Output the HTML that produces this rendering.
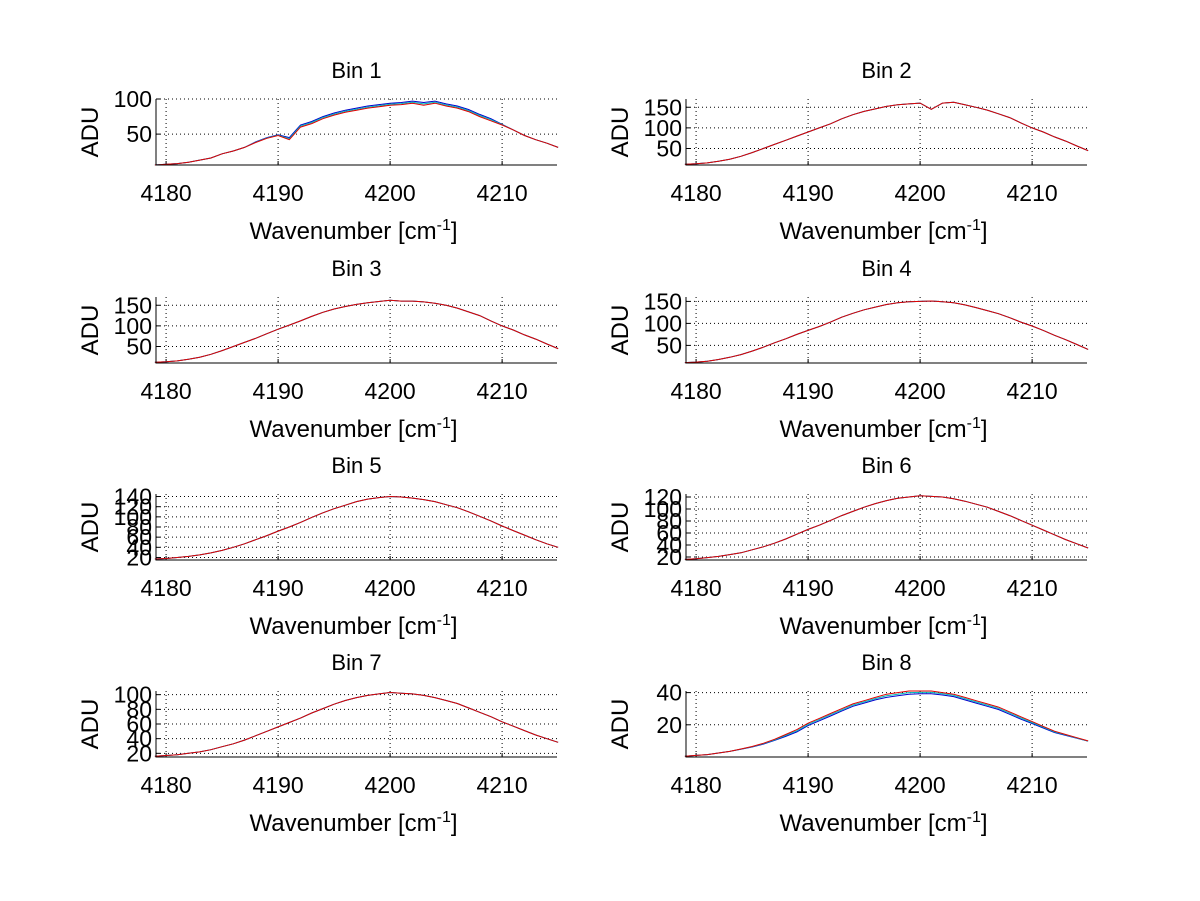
<!DOCTYPE html>
<html><head><meta charset="utf-8"><style>
html,body{margin:0;padding:0;background:#fff;}
svg{display:block;font-family:"Liberation Sans",sans-serif;}
</style></head><body>
<svg id="fig" width="1200" height="901" viewBox="0 0 1200 901" xmlns="http://www.w3.org/2000/svg">
<rect width="1200" height="901" fill="#fff"/>
</svg>
<script>
const wavenumbers = [4179,4180,4181,4182,4183,4184,4185,4186,4187,4188,4189,4190,4191,4192,4193,4194,4195,4196,4197,4198,4199,4200,4201,4202,4203,4204,4205,4206,4207,4208,4209,4210,4211,4212,4213,4214,4215];
const xTicks = [4180,4190,4200,4210];
const bin1Red = [6,7,8,10,13,16,22,26,31,38,44,48,42,60,65,72,77,81,84,87,89,91,92,94,91,94,90,87,82,75,69,63,56,48,42,37,31];
const bin1Blue = [6,7,8,10,13,16,22,26,31,39,45,49,45,63,68,75,80,84,87,90,92,94,95,97,95,97,93,90,85,78,72,64,56,48,42,37,31];
const bin2Red = [12,13,15,19,24,31,40,50,60,70,80,90,100,110,122,132,140,146,152,156,158,160,145,160,162,156,150,143,134,125,112,100,90,78,68,56,45];
const bin3Red = [12,13,15,19,24,31,40,50,60,70,81,92,102,112,123,133,141,147,152,156,159,162,160,160,158,155,150,143,134,125,112,100,90,78,68,56,45];
const bin4Red = [11,12,14,18,23,29,37,46,56,65,75,84,93,103,114,123,131,137,143,147,149,150,151,149,147,142,136,129,122,113,103,94,84,73,63,52,41];
const bin5Red = [17,18,20,22,25,29,34,40,47,55,63,72,80,89,99,108,116,123,130,135,138,140,139,137,134,130,124,118,110,101,92,82,73,64,55,47,40];
const bin6Red = [16,17,19,21,24,27,32,37,43,50,58,66,73,81,89,96,103,109,114,118,120,122,121,120,117,113,108,103,96,89,81,73,65,57,49,42,35];
const bin7Red = [16,17,18,20,22,25,29,33,38,44,50,56,62,68,75,81,87,92,96,99,101,103,102,101,99,96,92,88,82,76,70,63,57,51,45,40,35];
const bin8Red = [0.5,1,1.5,2.5,3.5,5,6.5,8.5,11,14,17,21,24,27,30,33,35,37,39,40,41,41,41,40,39,37,35,33,31,28,25,22,19,16,14,12,10];
const bin8Blue = [0.5,1,1.5,2.5,3.5,4.8,6.2,8,10.3,12.8,15.6,19.5,22.5,25.5,28.5,31.5,33.5,35.5,37,38,39,39.3,39.3,38.5,37.5,35.5,33.5,31.5,29.5,26.5,23.5,20.8,18,15.2,13.4,11.6,9.8];
const yTicks1=[50,100], yTicks2=[50,100,150], yTicks5=[20,40,60,80,100,120,140], yTicks6=[20,40,60,80,100,120], yTicks7=[20,40,60,80,100], yTicks8=[20,40];
const yLims=[[6,100],[10,170],[10,170],[10,160],[15,145],[15,125],[15,105],[0,41]];
const panelTicks=[yTicks1,yTicks2,yTicks2,yTicks2,yTicks5,yTicks6,yTicks7,yTicks8];
const panelRed=[bin1Red,bin2Red,bin3Red,bin4Red,bin5Red,bin6Red,bin7Red,bin8Red];
const panelBlue=[bin1Blue,bin2Red,bin3Red,bin4Red,bin5Red,bin6Red,bin7Red,bin8Blue];
const XMIN=4179.1, XMAX=4214.9;
const svg=document.getElementById('fig');
const NS='http://www.w3.org/2000/svg';
function mk(tag,attrs,parent){const e=document.createElementNS(NS,tag);for(const k in attrs)e.setAttribute(k,attrs[k]);parent.appendChild(e);return e;}
const lefts=[156,686], tops=[99,297,494,691], W=401, H=66;
for(let i=0;i<8;i++){
  const x0=lefts[i%2], y0=tops[Math.floor(i/2)];
  const [ymin,ymax]=yLims[i];
  const sx=v=>x0+(v-XMIN)/(XMAX-XMIN)*W;
  const sy=v=>y0+H-(v-ymin)/(ymax-ymin)*H;
  const g=mk('g',{},svg);
  
  
  const t=mk('text',{x:x0+W/2,y:y0-21,'text-anchor':'middle','font-size':22},g);
  t.textContent='Bin '+(i+1);
  
  
  xTicks.forEach(v=>{
    const l=mk('line',{x1:sx(v),x2:sx(v),y1:y0,y2:y0+H,stroke:'#000','stroke-width':1,'stroke-dasharray':'1,3'},g);
    
    
    const tk=mk('line',{x1:sx(v),x2:sx(v),y1:y0+H,y2:y0+H-4,stroke:'#000'},g);
    
    
    const lb=mk('text',{x:sx(v),y:y0+102,'text-anchor':'middle','font-size':23},g);
    lb.textContent=v;
    
    
  });
  panelTicks[i].forEach(v=>{
    const l=mk('line',{x1:x0,x2:x0+W,y1:sy(v),y2:sy(v),stroke:'#000','stroke-width':1,'stroke-dasharray':'1,3'},g);
    
    
    const tk=mk('line',{x1:x0,x2:x0+4,y1:sy(v),y2:sy(v),stroke:'#000'},g);
    
    
    const lb=mk('text',{x:x0-4,y:sy(v)+8,'text-anchor':'end','font-size':23},g);
    lb.textContent=v;
    
    
  });
  const pts=arr=>arr.map((v,j)=>sx(wavenumbers[j]).toFixed(1)+','+sy(v).toFixed(1)).join(' ');
  const pb=mk('polyline',{points:pts(panelBlue[i]),fill:'none',stroke:'#0000cc','stroke-width':1},g);
  
  
  const pc=mk('polyline',{points:pts(panelBlue[i].map((v,j)=>(v+panelRed[i][j])/2)),fill:'none',stroke:'#00bbbb','stroke-width':1},g);
  
  
  const pr=mk('polyline',{points:pts(panelRed[i]),fill:'none',stroke:'#e00000','stroke-width':1},g);
  
  
  const ax=mk('path',{d:`M${x0},${y0}V${y0+H}H${x0+W}`,fill:'none',stroke:'#000','stroke-width':1},g);
  
  
  const xl=mk('text',{x:x0+W/2-3,y:y0+140,'text-anchor':'middle','font-size':24},g);
  xl.innerHTML='Wavenumber [cm<tspan dy="-9" font-size="16">-1</tspan><tspan dy="9">]</tspan>';
  
  
  const yl=mk('text',{x:0,y:0,'text-anchor':'middle','font-size':24,transform:`translate(${x0-58},${y0+H/2}) rotate(-90)`},g);
  yl.textContent='ADU';
  
  
}
</script>
</body></html>
